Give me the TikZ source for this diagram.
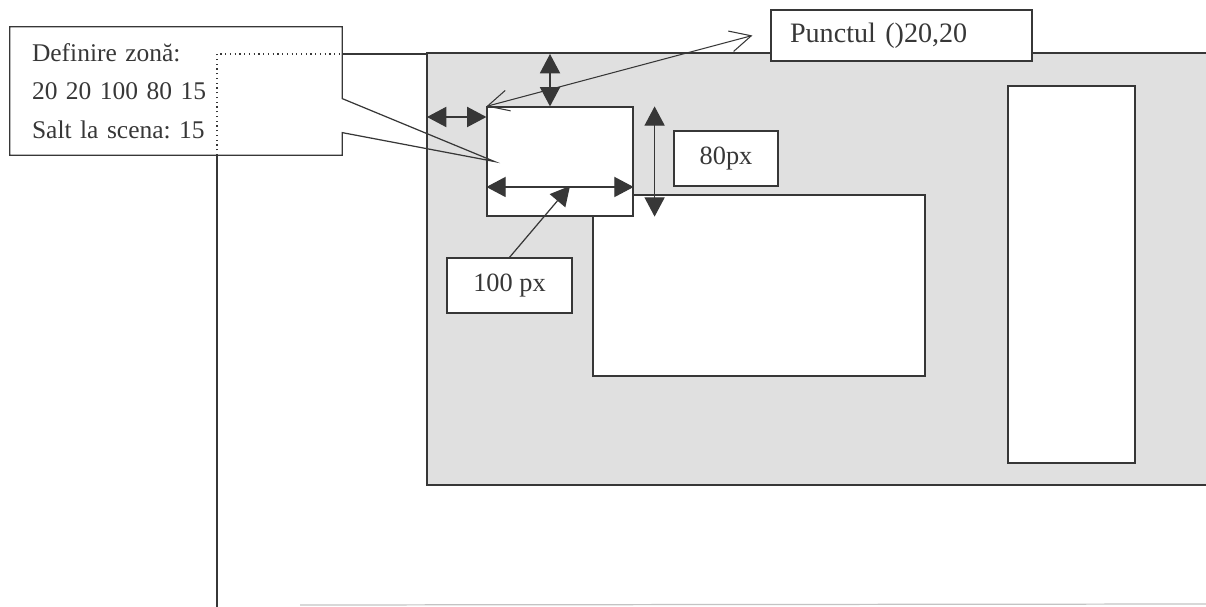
\documentclass[tikz,border=0pt]{standalone}
\usepackage{fontspec}
\setmainfont{Liberation Serif}
\usepackage{tikz}
\usetikzlibrary{arrows.meta, positioning, calc}
\definecolor{ink}{RGB}{55,55,55}
\definecolor{screen}{RGB}{224,224,224}
\frenchspacing

\begin{document}
\begin{tikzpicture}[x=0.02cm, y=-0.02cm,
        panel/.style={rectangle, draw=ink, fill=white, line width=0.7pt, inner sep=0pt},
        tag/.style={panel, font=\fontsize{15}{18}\selectfont, text=ink},
        dimarrow/.style={{Triangle[length=11pt, width=11.5pt]}-{Triangle[length=11pt, width=11.5pt]}, line width=0.7pt, ink},
        ptr/.style={-{Triangle[length=11pt, width=11.5pt]}, line width=0.7pt, ink},
        barb/.style={{Straight Barb[length=12pt, width=12pt]}-{Straight Barb[length=12pt, width=12pt]}, line width=0.6pt, ink},
        pageline/.style={line width=0.7pt, ink}
    ]
    \useasboundingbox (0,0) rectangle (1206,607);

    % Page edges
    \draw[pageline] (217,607) -- (217,155);
    \draw[pageline, dotted] (217,155) -- (217,54) -- (342,54);
    \draw[pageline] (342,54) -- (427,54);
    \draw[pageline, draw=ink!30] (300,605) -- (1206,604);

    % Scene and its areas
    \node[panel, fill=screen, minimum width=15.7cm, minimum height=8.64cm] (fundal) at (819.5,269) {};
    \node[panel, minimum width=2.54cm, minimum height=7.54cm] (lateral) at (1071.5,274.5) {};
    \node[panel, minimum width=6.64cm, minimum height=3.62cm] (ecran) at (759,285.5) {};
    \node[panel, minimum width=2.92cm, minimum height=2.18cm] (zona) at (560,161.5) {};

    % Labels
    \node[tag, minimum width=2.08cm, minimum height=1.1cm] (et80) at (726,158.5) {80px};
    \node[tag, minimum width=2.5cm, minimum height=1.1cm] (et100) at (509.5,285.5) {100 px};
    \node[tag, font=\fontsize{16}{19}\selectfont, minimum height=1.02cm, inner xsep=0.38cm, text width=4.46cm, align=left] (punct) at (901.5,35.5) {Punctul ()20,20};

    % Callout
    \node[font=\fontsize{14.5}{22}\selectfont, text=ink, text width=5.76cm, align=left, minimum width=6.64cm, minimum height=2.56cm, inner sep=0pt] (defzona) at (176,91) {Definire zonă:\\20 20 100 80 15\\Salt la scena: 15};
    \coordinate (varf) at ([xshift=0.16cm]zona.west);
    \draw[pageline] (defzona.north west) -| ([yshift=-1.44cm]defzona.north east) -- (varf) -- ([yshift=-2.12cm]defzona.north east) |- (defzona.south west) -- cycle;

    % Dimension arrows
    \coordinate (margine) at (427,117);
    \coordinate (sus) at (550,54);
    \draw[dimarrow] (margine) -- (margine -| zona.west);
    \draw[dimarrow] (sus) -- (sus |- zona.north);
    \draw[dimarrow] ([yshift=-0.51cm]zona.west) -- ([yshift=-0.51cm]zona.east);
    \draw[dimarrow] ([xshift=0.42cm]zona.north east) -- ([xshift=0.42cm]zona.south east);

    % Pointers
    \draw[ptr] (et100.north) -- ([xshift=0.2cm, yshift=-0.49cm]zona.center);
    \draw[barb] (zona.north west) -- ([xshift=-0.36cm]punct.west);

\end{tikzpicture}
\end{document}
